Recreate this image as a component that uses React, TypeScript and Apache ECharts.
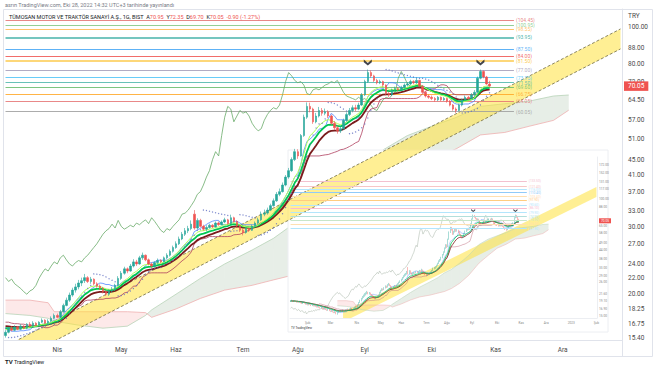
import React, { useEffect, useRef } from "react";
import * as echarts from "echarts";

// ---------- calendar ----------
const MONTHS_TR = ["Oca", "Şub", "Mar", "Nis", "May", "Haz", "Tem", "Ağu", "Eyl", "Eki", "Kas", "Ara"];
const HOLIDAYS = ["2022-05-02", "2022-05-03", "2022-05-04", "2022-05-19", "2022-07-11", "2022-07-12", "2022-07-15", "2022-08-30"];
function tradingDays(start: string, count: number): string[] {
  const out: string[] = [];
  const d = new Date(start + "T00:00:00Z");
  while (out.length < count) {
    const wd = d.getUTCDay();
    const iso = d.toISOString().slice(0, 10);
    if (wd !== 0 && wd !== 6 && HOLIDAYS.indexOf(iso) < 0) out.push(iso);
    d.setUTCDate(d.getUTCDate() + 1);
  }
  return out;
}
const MAIN_DATES = tradingDays("2022-03-09", 203);
const INSET_DATES = tradingDays("2022-01-11", 269);
const INSET_OFFSET = 41; // index of 2022-03-09 in inset

// ---------- price data [open, close, low, high] ----------
const PRE_OHLC = [
  [19.0, 19.2, 18.9, 19.4], [19.2, 19.4, 19.1, 19.6], [19.4, 19.0, 18.9, 19.5], [19.0, 19.3, 18.9, 19.4], [19.3, 19.1, 19.0, 19.4],
  [19.1, 18.8, 18.7, 19.2], [18.8, 19.0, 18.7, 19.1], [19.0, 18.7, 18.6, 19.1], [18.7, 18.9, 18.6, 19.0], [18.9, 18.6, 18.5, 19.0],
  [18.6, 18.4, 18.3, 18.7], [18.4, 18.7, 18.3, 18.8], [18.7, 18.5, 18.4, 18.8], [18.5, 18.2, 18.1, 18.6], [18.2, 18.4, 18.1, 18.5],
  [18.4, 18.0, 17.9, 18.5], [18.0, 18.3, 17.9, 18.4], [18.3, 18.1, 18.0, 18.4], [18.1, 17.8, 17.7, 18.2], [17.8, 18.0, 17.7, 18.1],
  [18.0, 17.7, 17.6, 18.1], [17.7, 17.9, 17.6, 18.0], [17.9, 17.6, 17.5, 18.0], [17.6, 17.4, 17.3, 17.7], [17.4, 17.7, 17.3, 17.8],
  [17.7, 17.3, 17.2, 17.8], [17.3, 17.1, 17.0, 17.4], [17.1, 17.4, 17.0, 17.5], [17.4, 17.0, 16.9, 17.5], [17.0, 16.8, 16.7, 17.1],
  [16.8, 17.1, 16.7, 17.2], [17.1, 16.7, 16.6, 17.2], [16.7, 16.5, 16.4, 16.8], [16.5, 16.8, 16.4, 16.9], [16.8, 16.4, 16.3, 16.9],
  [16.4, 16.2, 16.1, 16.5], [16.2, 16.5, 16.1, 16.6], [16.5, 16.1, 16.0, 16.6], [16.1, 15.9, 15.8, 16.2], [15.9, 16.2, 15.8, 16.3],
  [16.2, 15.6, 15.5, 16.3],
];
const MAIN_OHLC = [
  [15.6, 15.9, 15.4, 16.1], [15.9, 16.3, 15.8, 16.4], [16.3, 16.1, 16.0, 16.5], [16.1, 16.4, 16.0, 16.6], [16.4, 16.2, 16.1, 16.5],
  [16.2, 16.5, 16.1, 16.7], [16.5, 16.3, 16.2, 16.6], [16.3, 16.7, 16.2, 16.8], [16.7, 16.5, 16.4, 16.9], [16.5, 16.8, 16.4, 17.0],
  [16.8, 16.6, 16.5, 16.9], [16.6, 16.9, 16.5, 17.0], [16.9, 17.1, 16.8, 17.3], [17.1, 16.8, 16.7, 17.2], [16.8, 17.0, 16.7, 17.2],
  [17.0, 17.3, 16.9, 17.5], [17.3, 17.6, 17.2, 17.8], [17.6, 17.4, 17.3, 17.8], [17.4, 18.0, 17.3, 18.2], [18.0, 18.7, 17.9, 18.9],
  [18.7, 19.3, 18.6, 19.6], [19.3, 19.9, 19.1, 20.2], [19.9, 20.5, 19.7, 20.8], [20.5, 20.9, 20.2, 21.3], [20.9, 21.4, 20.6, 21.8],
  [21.4, 21.7, 21.0, 22.1], [21.7, 22.1, 21.4, 22.6], [22.1, 21.6, 21.4, 22.3], [21.6, 21.9, 21.3, 22.2], [21.9, 21.3, 21.1, 22.0],
  [21.3, 21.0, 20.8, 21.5], [21.0, 20.7, 20.5, 21.2], [20.7, 20.3, 20.1, 20.9], [20.3, 20.0, 19.8, 20.5], [20.0, 20.4, 19.8, 20.6],
  [20.4, 20.6, 20.2, 20.9], [20.6, 21.1, 20.4, 21.3], [21.1, 22.0, 21.0, 22.3], [22.0, 22.7, 21.8, 23.0], [22.7, 23.3, 22.5, 23.6],
  [23.3, 23.0, 22.7, 23.5], [23.0, 23.7, 22.9, 24.0], [23.7, 24.3, 23.5, 24.7], [24.3, 24.0, 23.7, 24.6], [24.0, 24.9, 23.9, 25.2],
  [24.9, 25.3, 24.6, 25.7], [25.3, 24.6, 24.4, 25.4], [24.6, 24.0, 23.8, 24.8], [24.0, 23.7, 23.4, 24.2], [23.7, 24.2, 23.5, 24.4],
  [24.2, 24.5, 24.0, 24.8], [24.5, 24.3, 24.1, 24.7], [24.3, 24.9, 24.2, 25.1], [24.9, 25.3, 24.7, 25.6], [25.3, 25.9, 25.1, 26.2],
  [25.9, 26.5, 25.7, 26.8], [26.5, 27.1, 26.3, 27.5], [27.1, 27.9, 26.9, 28.3], [27.9, 28.7, 27.7, 29.1], [28.7, 29.3, 28.4, 29.8],
  [29.3, 29.7, 28.9, 30.2], [29.7, 30.5, 29.4, 31.2], [32.4, 29.8, 29.5, 33.2], [29.8, 31.2, 29.6, 31.6], [31.2, 30.1, 29.9, 31.5],
  [30.1, 29.6, 29.3, 30.4], [29.6, 29.9, 29.2, 30.3], [29.9, 30.3, 29.7, 30.6], [30.3, 30.0, 29.8, 30.5], [30.0, 30.7, 29.9, 31.0],
  [30.7, 30.4, 30.2, 31.0], [30.4, 30.9, 30.3, 31.2], [30.9, 31.3, 30.7, 31.7], [31.3, 30.6, 30.4, 31.5], [30.6, 31.7, 30.5, 32.3],
  [31.7, 31.0, 30.8, 31.9], [31.0, 30.2, 30.0, 31.2], [30.2, 29.4, 29.1, 30.4], [29.4, 29.0, 28.5, 29.7], [29.0, 29.7, 28.8, 30.0],
  [29.7, 29.4, 29.1, 29.9], [29.4, 30.1, 29.3, 30.4], [30.1, 30.7, 29.9, 31.0], [30.7, 31.3, 30.5, 31.7], [31.3, 32.4, 31.1, 32.9],
  [32.4, 32.6, 32.0, 33.3], [32.6, 33.2, 32.3, 33.7], [33.2, 34.1, 33.0, 34.5], [34.1, 35.1, 33.9, 35.6], [35.1, 36.5, 34.9, 37.0],
  [36.5, 37.1, 36.1, 37.8], [37.1, 38.6, 36.9, 39.2], [38.6, 40.5, 38.3, 41.0], [40.5, 42.1, 40.1, 42.8], [42.1, 45.0, 41.8, 45.6],
  [45.0, 47.2, 44.6, 48.0], [47.2, 46.0, 45.2, 47.9], [46.0, 52.0, 45.8, 52.5], [52.0, 58.1, 51.6, 59.0], [58.1, 62.0, 57.5, 63.5],
  [62.0, 61.0, 59.8, 63.4], [61.0, 56.5, 55.8, 61.5], [56.5, 58.5, 56.0, 59.6], [58.5, 60.5, 58.0, 61.8], [60.5, 59.5, 58.6, 61.4],
  [59.5, 60.0, 58.8, 61.2], [60.0, 58.5, 57.8, 60.6], [58.5, 56.0, 55.4, 59.0], [56.0, 54.5, 53.8, 56.8], [54.5, 53.5, 52.6, 55.2],
  [53.5, 54.2, 52.8, 55.0], [54.2, 57.0, 53.9, 57.6], [57.0, 59.0, 56.5, 59.8], [59.0, 60.5, 58.5, 61.4], [60.5, 61.5, 59.8, 62.4],
  [61.5, 61.0, 60.2, 62.6], [61.0, 62.5, 60.6, 63.4], [62.5, 66.5, 62.2, 67.2], [66.5, 72.0, 66.0, 72.8], [72.0, 76.0, 71.4, 77.4],
  [76.0, 74.5, 73.6, 77.0], [74.5, 72.5, 71.8, 75.0], [72.5, 71.5, 70.8, 73.2], [71.5, 72.0, 70.9, 72.8], [72.0, 70.5, 69.8, 72.4],
  [70.5, 67.0, 66.2, 70.8], [67.0, 66.5, 65.6, 67.8], [66.5, 68.5, 66.0, 69.0], [68.5, 69.0, 67.8, 69.8], [69.0, 68.5, 67.9, 69.6],
  [68.5, 69.5, 68.0, 70.2], [69.5, 70.5, 69.0, 71.2], [70.5, 71.0, 69.9, 71.8], [71.0, 72.0, 70.4, 72.8], [72.0, 71.5, 70.8, 72.6],
  [71.5, 72.5, 71.0, 73.4], [72.5, 70.0, 69.6, 72.8], [70.0, 67.5, 67.0, 70.4], [67.5, 66.0, 65.4, 68.0], [66.0, 65.5, 64.9, 66.6],
  [65.5, 65.0, 64.4, 66.2], [65.0, 64.5, 63.8, 65.6], [64.5, 65.5, 64.0, 66.0], [65.5, 64.5, 64.0, 65.8], [64.5, 65.0, 64.1, 65.6],
  [65.0, 64.0, 63.4, 65.4], [64.0, 62.5, 62.0, 64.4], [62.5, 61.0, 60.4, 62.9], [61.0, 60.5, 59.6, 61.6], [60.5, 62.5, 60.2, 63.0],
  [62.5, 64.5, 62.0, 65.0], [64.5, 65.5, 64.0, 66.2], [65.5, 65.0, 64.4, 66.0], [65.0, 66.5, 64.8, 67.2], [66.5, 67.5, 66.0, 68.4],
  [67.5, 73.5, 67.2, 74.2], [73.5, 76.5, 73.0, 77.4], [76.5, 74.0, 73.4, 77.0], [74.0, 71.0, 70.6, 74.5], [70.95, 70.05, 69.7, 72.35],
];
const LAST = { open: "70.95", high: "72.35", low: "69.70", close: "70.05", change: "-0.90", pct: "-1.27%" };

// ---------- Ichimoku cloud (leading spans) ----------
const CLOUD_BAR = [0, 8, 14, 16, 24, 32, 40, 46, 48, 56, 64, 72, 81, 88, 94, 100, 107, 115, 124, 132, 140, 148, 156, 164, 172, 180, 185];
const SPAN_A = [17.8, 17.6, 17.3, 17.0, 16.6, 16.3, 16.5, 17.6, 18.2, 20.0, 22.0, 24.0, 26.1, 28.0, 30.3, 32.0, 35.3, 40.0, 47.7, 52.0, 55.0, 58.0, 62.0, 63.0, 64.0, 66.0, 66.4];
const SPAN_B = [19.3, 19.3, 19.0, 18.0, 18.0, 18.0, 18.0, 17.9, 17.4, 18.3, 19.5, 20.5, 21.1, 21.8, 22.4, 23.5, 25.5, 29.0, 35.3, 40.0, 45.0, 48.0, 52.2, 53.0, 55.0, 57.0, 60.6];

// ---------- drawings ----------
const BAND_UPPER = [[0, 14.62], [202, 98.86]];
const BAND_LOWER = [[0, 12.96], [202, 87.64]];
const INSET_BAND_UPPER = [[46, 16.1], [268, 121.0]];
const INSET_BAND_LOWER = [[46, 13.7], [268, 102.9]];
const PEAK_BARS = [119, 156];

const LEVELS = [111.5, 104.45, 100.95, 98.55, 93.95, 87.5, 84.0, 81.5, 77.0, 73.75, 71.5, 69.6, 66.75, 64.05, 60.05];
const LEVEL_COLORS = ["#80cbc4", "#e57373", "#81c784", "#ffb74d", "#26a69a", "#42a5f5", "#ef5350", "#fbc02d", "#a49cb8", "#4fc3f7", "#4db6ac", "#66bb6a", "#ffa726", "#e57373", "#9e9e9e"];
const LEVEL_WIDTHS = [1, 1, 1, 1, 1.5, 1, 1, 1.5, 1, 1, 1, 1, 1, 1, 1];
const LEVEL_END_BAR = 167;

const INSET_LEVELS = [133.5, 121.4, 116.0, 110.4, 103.4, 97.9, 90.6, 86.1, 79.9, 74.9, 70.9, 66.3, 61.9];
const INSET_LEVEL_COLORS = ["#f3c1cf", "#f7c6c6", "#b3e5fc", "#90caf9", "#ffe0b2", "#ffcc80", "#b3e5fc", "#f8bbd0", "#b3e5fc", "#b2dfdb", "#c8e6c9", "#ffe0b2", "#b3e5fc"];
const INSET_LEVEL_END = 207;

const Y_TICKS = [100, 88, 80, 72, 64.5, 57, 51, 45, 41, 37, 33, 30, 27, 24, 22, 20, 18.25, 16.75, 15.4];
const Y_MIN = 15.18;
const Y_MAX = 111.47;
const INSET_Y_TICKS = [172, 152, 131, 117, 100, 88, 65, 58, 49, 44, 38, 33, 29, 26, 21.6, 19.1, 16.9, 15.0];
const INSET_Y_MIN = 14.6;
const INSET_Y_MAX = 196;

// ---------- indicators ----------
const ALL_OHLC = PRE_OHLC.concat(MAIN_OHLC);
const ALL_CLOSE = ALL_OHLC.map((d) => d[1]);
function ema(vals: number[], p: number) {
  const a = 2 / (p + 1);
  let e = vals[0];
  return vals.map((v, i) => {
    e = i === 0 ? v : v * a + e * (1 - a);
    return +e.toFixed(3);
  });
}
function midline(ohlc: number[][], p: number) {
  return ohlc.map((_, i) => {
    if (i < p - 1) return null;
    let hi = -Infinity, lo = Infinity;
    for (let j = i - p + 1; j <= i; j++) { hi = Math.max(hi, ohlc[j][3]); lo = Math.min(lo, ohlc[j][2]); }
    return +((hi + lo) / 2).toFixed(3);
  });
}
function psar(ohlc: number[][]) {
  const step = 0.02, max = 0.2;
  const out: (number | null)[] = [null];
  let up = true, af = step, ep = ohlc[0][3], sar = ohlc[0][2];
  for (let i = 1; i < ohlc.length; i++) {
    const h = ohlc[i][3], l = ohlc[i][2];
    sar = sar + af * (ep - sar);
    if (up) {
      sar = Math.min(sar, ohlc[i - 1][2], ohlc[Math.max(0, i - 2)][2]);
      if (l < sar) { up = false; sar = ep; ep = l; af = step; }
      else if (h > ep) { ep = h; af = Math.min(af + step, max); }
    } else {
      sar = Math.max(sar, ohlc[i - 1][3], ohlc[Math.max(0, i - 2)][3]);
      if (h > sar) { up = true; sar = ep; ep = h; af = step; }
      else if (l < ep) { ep = l; af = Math.min(af + step, max); }
    }
    out.push(+sar.toFixed(3));
  }
  return out;
}
const EMA_FAST = ema(ALL_CLOSE, 9);
const EMA_MID = ema(ALL_CLOSE, 12);
const EMA_SLOW = ema(ALL_CLOSE, 16);
const TENKAN = midline(ALL_OHLC, 9);
const KIJUN = midline(ALL_OHLC, 26);
const PSAR = psar(ALL_OHLC);
const CHIKOU = ALL_CLOSE.map((_, i) => (i + 26 < ALL_CLOSE.length ? ALL_CLOSE[i + 26] : null));

const FONT = "Roboto, Arial, sans-serif";
const HIDDEN_LINE = { width: 0, color: "rgba(0,0,0,0)", opacity: 1 };

function monthInterval(dates: string[]) {
  return (i: number) => i > 0 && dates[i].slice(0, 7) !== dates[i - 1].slice(0, 7);
}
function monthLabel(v: string) {
  const m = +v.slice(5, 7) - 1;
  return m === 0 ? v.slice(0, 4) : MONTHS_TR[m];
}

function cloudSeries(xi: number, off: number, z: number, lw: number) {
  const segs = CLOUD_BAR.slice(0, -1).map((b, i) => [b + off, SPAN_A[i], SPAN_B[i], CLOUD_BAR[i + 1] + off, SPAN_A[i + 1], SPAN_B[i + 1]]);
  return [
    {
      type: "custom", xAxisIndex: xi, yAxisIndex: xi, z, clip: true, silent: true,
      data: segs, encode: { x: [0, 3], y: [1, 2, 4, 5] },
      renderItem: (_p: any, api: any) => {
        const a0 = api.coord([api.value(0), api.value(1)]);
        const a1 = api.coord([api.value(3), api.value(4)]);
        const b1 = api.coord([api.value(3), api.value(5)]);
        const b0 = api.coord([api.value(0), api.value(2)]);
        const bull = api.value(1) + api.value(4) >= api.value(2) + api.value(5);
        return { type: "polygon", shape: { points: [a0, a1, b1, b0] }, style: { fill: bull ? "rgba(120,160,120,0.18)" : "rgba(240,120,120,0.16)" } };
      },
    },
    { type: "line", xAxisIndex: xi, yAxisIndex: xi, z, silent: true, symbol: "none", data: CLOUD_BAR.map((b, i) => [b + off, SPAN_A[i]]), lineStyle: { color: "#b7d3b7", width: lw } },
    { type: "line", xAxisIndex: xi, yAxisIndex: xi, z, silent: true, symbol: "none", data: CLOUD_BAR.map((b, i) => [b + off, SPAN_B[i]]), lineStyle: { color: "#efb0b0", width: lw } },
  ];
}

function bandSeries(xi: number, upper: number[][], lower: number[][], z: number, dash: boolean) {
  return {
    type: "custom", xAxisIndex: xi, yAxisIndex: xi, z, clip: true, silent: true,
    data: [[upper[0][0], upper[0][1], upper[1][0], upper[1][1], lower[0][1], lower[1][1]]],
    encode: { x: [0, 2], y: [1, 3, 4, 5] },
    renderItem: (_p: any, api: any) => {
      const u0 = api.coord([api.value(0), api.value(1)]);
      const u1 = api.coord([api.value(2), api.value(3)]);
      const l0 = api.coord([api.value(0), api.value(4)]);
      const l1 = api.coord([api.value(2), api.value(5)]);
      const edge = { stroke: "#6f6a45", lineWidth: 0.8, lineDash: [3, 2] };
      const children: any[] = [{ type: "polygon", shape: { points: [u0, u1, l1, l0] }, style: { fill: "rgba(255,226,60,0.55)" } }];
      if (dash) {
        children.push({ type: "line", shape: { x1: u0[0], y1: u0[1], x2: u1[0], y2: u1[1] }, style: edge });
        children.push({ type: "line", shape: { x1: l0[0], y1: l0[1], x2: l1[0], y2: l1[1] }, style: edge });
      }
      return { type: "group", children };
    },
  };
}

function buildOption() {
  const off = INSET_OFFSET;
  const mainSlice = (arr: (number | null)[]) => arr.slice(off);
  const lineS = (xi: number, data: any[], color: string, width: number, z: number) => ({
    type: "line", xAxisIndex: xi, yAxisIndex: xi, data, symbol: "none", z, silent: true,
    lineStyle: { color, width }, connectNulls: false,
  });

  const mainMarks: any[] = [];
  LEVELS.forEach((v, i) => {
    mainMarks.push([
      {
        coord: [0, v], lineStyle: { color: LEVEL_COLORS[i], width: LEVEL_WIDTHS[i], type: "solid", opacity: 0.85 },
        label: { show: true, position: "end", formatter: "(" + v.toFixed(2) + ")", color: LEVEL_COLORS[i], fontSize: 5, distance: 2, fontFamily: FONT },
      },
      { coord: [LEVEL_END_BAR, v] },
    ]);
  });
  Y_TICKS.forEach((t) => {
    mainMarks.push({
      yAxis: t, lineStyle: HIDDEN_LINE,
      label: { show: true, position: "end", formatter: t.toFixed(2), color: "#4a4a4a", fontSize: 6.5, distance: 6, fontFamily: FONT, opacity: 1 },
    });
  });
  mainMarks.push({
    yAxis: +LAST.close, lineStyle: HIDDEN_LINE,
    label: { show: true, position: "end", formatter: LAST.close, color: "#fff", backgroundColor: "#ef5350", fontSize: 6.5, padding: [1.5, 4, 1, 4], distance: 2, fontFamily: FONT, opacity: 1 },
  });

  const insetMarks: any[] = [];
  INSET_LEVELS.forEach((v, i) => {
    insetMarks.push([
      {
        coord: [0, v], lineStyle: { color: INSET_LEVEL_COLORS[i], width: 1.2, type: "solid" },
        label: { show: true, position: "end", formatter: "(" + v.toFixed(2) + ")", color: INSET_LEVEL_COLORS[i], fontSize: 3.2, distance: 2, fontFamily: FONT },
      },
      { coord: [INSET_LEVEL_END, v] },
    ]);
  });
  INSET_Y_TICKS.forEach((t) => {
    insetMarks.push({
      yAxis: t, lineStyle: HIDDEN_LINE,
      label: { show: true, position: "end", formatter: t.toFixed(2), color: "#888", fontSize: 3.2, distance: 2, fontFamily: FONT, opacity: 1 },
    });
  });
  insetMarks.push({
    yAxis: +LAST.close, lineStyle: HIDDEN_LINE,
    label: { show: true, position: "end", formatter: LAST.close, color: "#fff", backgroundColor: "#ef5350", fontSize: 3.2, padding: [1, 2], distance: 2, fontFamily: FONT, opacity: 1 },
  });

  const chevron = "path://M0,0L5,4L10,0L10,3L5,7L0,3Z";

  return {
    animation: false,
    backgroundColor: "#ffffff",
    textStyle: { fontFamily: FONT },
    grid: [
      { left: 4, right: 32, top: 9, bottom: 26 },
      { left: 290, top: 157, width: 307, height: 161 },
    ],
    xAxis: [
      {
        type: "category", gridIndex: 0, data: MAIN_DATES, boundaryGap: true,
        axisLine: { lineStyle: { color: "#e0e3eb" } }, axisTick: { show: false }, splitLine: { show: false },
        axisLabel: { interval: monthInterval(MAIN_DATES), formatter: monthLabel, fontSize: 6.5, color: "#4a4a4a", margin: 6, fontFamily: FONT },
      },
      {
        type: "category", gridIndex: 1, data: INSET_DATES, boundaryGap: true, z: 3,
        axisLine: { lineStyle: { color: "#eceef2" } }, axisTick: { show: false }, splitLine: { show: false },
        axisLabel: { interval: monthInterval(INSET_DATES), formatter: monthLabel, fontSize: 3.2, color: "#888", margin: 3, fontFamily: FONT },
      },
    ],
    yAxis: [
      {
        type: "log", gridIndex: 0, position: "right", min: Y_MIN, max: Y_MAX,
        axisLine: { show: true, lineStyle: { color: "#e0e3eb" } }, axisTick: { show: false },
        axisLabel: { show: false }, splitLine: { show: false },
      },
      {
        type: "log", gridIndex: 1, position: "right", min: INSET_Y_MIN, max: INSET_Y_MAX, z: 3,
        axisLine: { show: true, lineStyle: { color: "#eceef2" } }, axisTick: { show: false },
        axisLabel: { show: false }, splitLine: { show: false },
      },
    ],
    graphic: [
      { type: "rect", z: 2, shape: { x: 288, y: 150, width: 320, height: 182 }, style: { fill: "#ffffff", stroke: "#eceef2", lineWidth: 1 } },
      { type: "rect", z: 10, silent: true, shape: { x: 3.5, y: 9.5, width: 649, height: 347 }, style: { fill: "none", stroke: "#e0e3eb", lineWidth: 1 } },
      { type: "line", z: 10, silent: true, shape: { x1: 622.5, y1: 9.5, x2: 622.5, y2: 356.5 }, style: { stroke: "#e0e3eb", lineWidth: 1 } },
      { type: "text", z: 10, x: 5, y: 1.5, style: { text: "asrın TradingView.com, Eki 28, 2022 14:32 UTC+3 tarihinde yayınlandı", fill: "#787b86", fontSize: 5.5, fontFamily: FONT } },
      {
        type: "text", z: 10, x: 9, y: 13.5,
        style: {
          text: "{n|TÜMOSAN MOTOR VE TRAKTÖR SANAYİ A.Ş., 1G, BIST}  {l|A}{v|" + LAST.open + "}  {l|Y}{v|" + LAST.high + "}  {l|D}{v|" + LAST.low + "}  {l|K}{v|" + LAST.close + "}  {v|" + LAST.change + " (" + LAST.pct + ")}",
          fontSize: 5.5, fontFamily: FONT,
          rich: { n: { fill: "#131722", fontSize: 5.5, fontFamily: FONT }, l: { fill: "#131722", fontSize: 5.5, fontFamily: FONT }, v: { fill: "#ef5350", fontSize: 5.5, fontFamily: FONT } },
        },
      },
      { type: "text", z: 10, x: 628, y: 12, style: { text: "TRY", fill: "#4a4a4a", fontSize: 6.5, fontFamily: FONT } },
      { type: "text", z: 10, x: 5, y: 358.5, style: { text: "{b|TV} TradingView", fill: "#131722", fontSize: 5.5, fontFamily: FONT, rich: { b: { fontWeight: "bold", fontSize: 6, fill: "#131722" } } } },
      { type: "text", z: 10, x: 291, y: 326.5, style: { text: "TV TradingView", fill: "#333", fontSize: 3, fontFamily: FONT } },
    ],
    series: [
      // ---- main chart ----
      ...cloudSeries(0, 0, 1, 0.8),
      bandSeries(0, BAND_UPPER, BAND_LOWER, 4, true),
      lineS(0, mainSlice(CHIKOU), "#6aab6a", 0.8, 5),
      lineS(0, mainSlice(KIJUN), "#b04060", 0.8, 5),
      lineS(0, mainSlice(TENKAN), "#4f86ff", 0.8, 5),
      lineS(0, mainSlice(EMA_SLOW), "#7a1c1c", 1.8, 5),
      lineS(0, mainSlice(EMA_MID), "#00c853", 1.8, 5),
      lineS(0, mainSlice(EMA_FAST), "#b2ff59", 1, 5),
      {
        type: "scatter", xAxisIndex: 0, yAxisIndex: 0, z: 5, silent: true, symbol: "circle", symbolSize: 1.3,
        data: mainSlice(PSAR), itemStyle: { color: "#5c6bc0" },
      },
      {
        type: "candlestick", xAxisIndex: 0, yAxisIndex: 0, z: 6, data: MAIN_OHLC, barWidth: 2,
        itemStyle: { color: "#26a69a", color0: "#ef5350", borderColor: "#26a69a", borderColor0: "#ef5350", borderWidth: 0.6 },
        markLine: { silent: true, symbol: ["none", "none"], animation: false, data: mainMarks },
      },
      {
        type: "scatter", xAxisIndex: 0, yAxisIndex: 0, z: 7, silent: true, symbol: chevron, symbolSize: [8, 6], symbolOffset: [0, -7],
        data: PEAK_BARS.map((b) => [b, MAIN_OHLC[b][3]]), itemStyle: { color: "#131722" },
      },
      // ---- inset chart ----
      ...cloudSeries(1, off, 3, 0.5),
      bandSeries(1, INSET_BAND_UPPER, INSET_BAND_LOWER, 3, false),
      lineS(1, CHIKOU, "#a5b3a5", 0.5, 3),
      lineS(1, KIJUN, "#c07080", 0.5, 3),
      lineS(1, TENKAN, "#6f9cff", 0.5, 3),
      lineS(1, EMA_SLOW, "#7a1c1c", 0.8, 3),
      lineS(1, EMA_MID, "#00c853", 0.8, 3),
      {
        type: "candlestick", xAxisIndex: 1, yAxisIndex: 1, z: 3, data: ALL_OHLC, barWidth: 0.8,
        itemStyle: { color: "#26a69a", color0: "#ef5350", borderColor: "#26a69a", borderColor0: "#ef5350", borderWidth: 0.4 },
        markLine: { silent: true, symbol: ["none", "none"], animation: false, data: insetMarks },
      },
      {
        type: "scatter", xAxisIndex: 1, yAxisIndex: 1, z: 3, silent: true, symbol: chevron, symbolSize: [4, 3], symbolOffset: [0, -4],
        data: PEAK_BARS.map((b) => [b + off, MAIN_OHLC[b][3]]), itemStyle: { color: "#131722" },
      },
    ],
  };
}

export default function App() {
  const ref = useRef<HTMLDivElement>(null);
  useEffect(() => {
    if (!ref.current) return;
    const chart = echarts.init(ref.current, null, { renderer: "svg" });
    chart.setOption(buildOption() as any);
    return () => chart.dispose();
  }, []);
  return <div ref={ref} style={{ position: "fixed", left: 0, top: 0, width: 654, height: 366, background: "#fff" }} />;
}
